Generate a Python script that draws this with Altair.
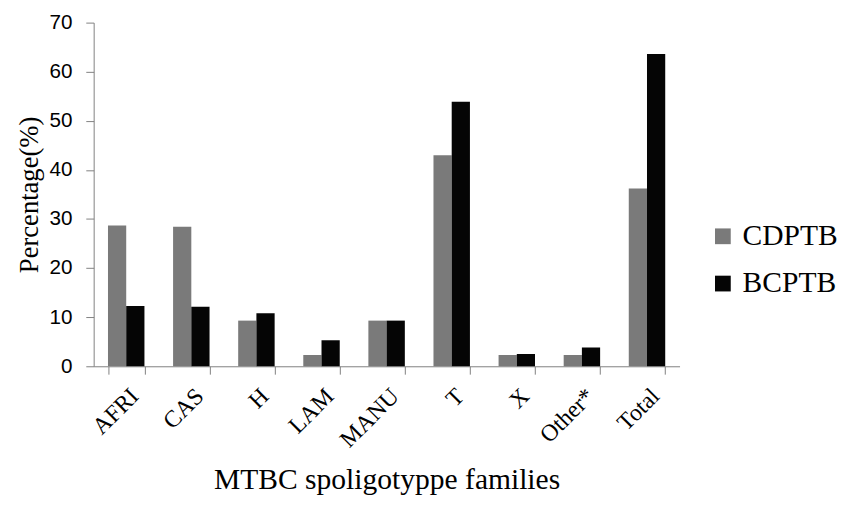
import altair as alt
import pandas as pd

families = ["AFRI", "CAS", "H", "LAM", "MANU", "T", "X", "Other*", "Total"]
cdptb = [28.7, 28.4, 9.3, 2.3, 9.3, 43.0, 2.3, 2.3, 36.2]
bcptb = [12.3, 12.1, 10.8, 5.3, 9.3, 53.9, 2.5, 3.8, 63.6]
groups = ["CDPTB", "BCPTB"]

rows = []
for i, f in enumerate(families):
    rows.append({"family": f, "group": "CDPTB", "value": cdptb[i]})
    rows.append({"family": f, "group": "BCPTB", "value": bcptb[i]})
df = pd.DataFrame(rows)

serif = "Liberation Serif"
sans = "Liberation Sans"

chart = alt.Chart(df).mark_bar().encode(
    x=alt.X("family:N", sort=families,
            scale=alt.Scale(paddingInner=0.44, paddingOuter=0.22),
            axis=alt.Axis(title="MTBC spoligotyppe families", labelAngle=-45,
                          labelFont=serif, labelFontSize=24, labelColor="#000",
                          titleFont=serif, titleFontSize=30, titleFontWeight="normal",
                          titleColor="#000", titlePadding=13,
                          tickBand="extent", tickSize=8, tickColor="#808080",
                          domainColor="#808080", labelPadding=10)),
    xOffset=alt.XOffset("group:N", sort=groups, scale=alt.Scale(paddingInner=0, paddingOuter=0)),
    y=alt.Y("value:Q", scale=alt.Scale(domain=[0, 70]),
            axis=alt.Axis(title="Percentage(%)", values=[0, 10, 20, 30, 40, 50, 60, 70],
                          grid=False, labelFont=sans, labelFontSize=21, labelColor="#000",
                          titleFont=serif, titleFontSize=27, titleFontWeight="normal",
                          titleColor="#000", titlePadding=6, labelPadding=14,
                          tickSize=8, tickColor="#808080", domainColor="#808080")),
    color=alt.Color("group:N", sort=groups,
                    scale=alt.Scale(domain=groups, range=["#7a7a7a", "#050505"]),
                    legend=alt.Legend(title=None, orient="none", legendX=624, legendY=202,
                                      labelFont=serif, labelFontSize=30,
                                      labelColor="#000",
                                      symbolType="square", symbolSize=256,
                                      symbolStrokeWidth=0, rowPadding=18, labelOffset=5)),
).properties(
    width=595, height=349,
    padding={"top": 0, "left": 7, "right": 5, "bottom": 5},
).configure(background="white", font=serif).configure_view(stroke=None)

chart.save("out.html", embed_options={"renderer": "svg", "actions": False})
